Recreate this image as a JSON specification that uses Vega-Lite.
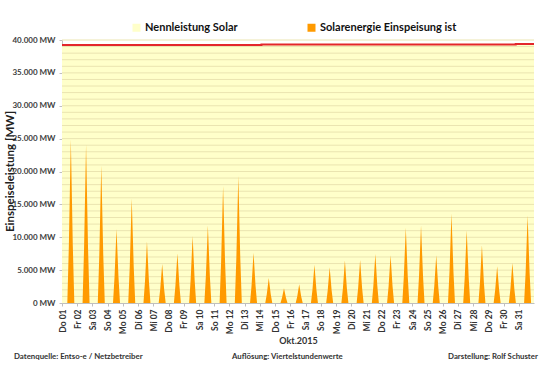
{
  "$schema": "https://vega.github.io/schema/vega-lite/v6.json",
  "width": 472,
  "height": 263,
  "autosize": {"type": "none"},
  "padding": {"left": 62, "top": 40, "right": 6, "bottom": 65},
  "background": "white",
  "config": {"view": {"stroke": null}, "font": "Lato", "axis": {"labelFont": "Lato", "titleFont": "Lato", "labelOverlap": false, "labelSeparation": 0}},
  "datasets": {
    "nenn": [
      {"t": 0, "mw": 39250},
      {"t": 13.1, "mw": 39300},
      {"t": 29.8, "mw": 39380},
      {"t": 31, "mw": 39380}
    ],
    "grid": [
      {"mw": 1000}, {"mw": 2000}, {"mw": 3000}, {"mw": 4000}, {"mw": 5000}, {"mw": 6000}, {"mw": 7000}, {"mw": 8000}, {"mw": 9000}, {"mw": 10000},
      {"mw": 11000}, {"mw": 12000}, {"mw": 13000}, {"mw": 14000}, {"mw": 15000}, {"mw": 16000}, {"mw": 17000}, {"mw": 18000}, {"mw": 19000}, {"mw": 20000},
      {"mw": 21000}, {"mw": 22000}, {"mw": 23000}, {"mw": 24000}, {"mw": 25000}, {"mw": 26000}, {"mw": 27000}, {"mw": 28000}, {"mw": 29000}, {"mw": 30000},
      {"mw": 31000}, {"mw": 32000}, {"mw": 33000}, {"mw": 34000}, {"mw": 35000}, {"mw": 36000}, {"mw": 37000}, {"mw": 38000}, {"mw": 39000}, {"mw": 40000}
    ],
    "solar": [
      {"t": 0.35, "mw": 0}, {"t": 0.45, "mw": 8715}, {"t": 0.58, "mw": 24900}, {"t": 0.71, "mw": 8715}, {"t": 0.81, "mw": 0},
      {"t": 1.35, "mw": 0}, {"t": 1.45, "mw": 8435}, {"t": 1.58, "mw": 24100}, {"t": 1.71, "mw": 8435}, {"t": 1.81, "mw": 0},
      {"t": 2.35, "mw": 0}, {"t": 2.45, "mw": 7315}, {"t": 2.58, "mw": 20900}, {"t": 2.71, "mw": 7315}, {"t": 2.81, "mw": 0},
      {"t": 3.35, "mw": 0}, {"t": 3.45, "mw": 3938}, {"t": 3.58, "mw": 11250}, {"t": 3.71, "mw": 3938}, {"t": 3.81, "mw": 0},
      {"t": 4.35, "mw": 0}, {"t": 4.45, "mw": 5565}, {"t": 4.58, "mw": 15900}, {"t": 4.71, "mw": 5565}, {"t": 4.81, "mw": 0},
      {"t": 5.35, "mw": 0}, {"t": 5.45, "mw": 3273}, {"t": 5.58, "mw": 9350}, {"t": 5.71, "mw": 3273}, {"t": 5.81, "mw": 0},
      {"t": 6.35, "mw": 0}, {"t": 6.45, "mw": 2083}, {"t": 6.58, "mw": 5950}, {"t": 6.71, "mw": 2083}, {"t": 6.81, "mw": 0},
      {"t": 7.35, "mw": 0}, {"t": 7.45, "mw": 2643}, {"t": 7.58, "mw": 7550}, {"t": 7.71, "mw": 2643}, {"t": 7.81, "mw": 0},
      {"t": 8.35, "mw": 0}, {"t": 8.45, "mw": 3570}, {"t": 8.58, "mw": 10200}, {"t": 8.71, "mw": 3570}, {"t": 8.81, "mw": 0},
      {"t": 9.35, "mw": 0}, {"t": 9.45, "mw": 4130}, {"t": 9.58, "mw": 11800}, {"t": 9.71, "mw": 4130}, {"t": 9.81, "mw": 0},
      {"t": 10.35, "mw": 0}, {"t": 10.45, "mw": 6230}, {"t": 10.58, "mw": 17800}, {"t": 10.71, "mw": 6230}, {"t": 10.81, "mw": 0},
      {"t": 11.35, "mw": 0}, {"t": 11.45, "mw": 6755}, {"t": 11.58, "mw": 19300}, {"t": 11.71, "mw": 6755}, {"t": 11.81, "mw": 0},
      {"t": 12.35, "mw": 0}, {"t": 12.45, "mw": 2678}, {"t": 12.58, "mw": 7650}, {"t": 12.71, "mw": 2678}, {"t": 12.81, "mw": 0},
      {"t": 13.35, "mw": 0}, {"t": 13.45, "mw": 1330}, {"t": 13.58, "mw": 3800}, {"t": 13.71, "mw": 1330}, {"t": 13.81, "mw": 0},
      {"t": 14.35, "mw": 0}, {"t": 14.45, "mw": 788}, {"t": 14.58, "mw": 2250}, {"t": 14.71, "mw": 788}, {"t": 14.81, "mw": 0},
      {"t": 15.35, "mw": 0}, {"t": 15.45, "mw": 998}, {"t": 15.58, "mw": 2850}, {"t": 15.71, "mw": 998}, {"t": 15.81, "mw": 0},
      {"t": 16.35, "mw": 0}, {"t": 16.45, "mw": 2030}, {"t": 16.58, "mw": 5800}, {"t": 16.71, "mw": 2030}, {"t": 16.81, "mw": 0},
      {"t": 17.35, "mw": 0}, {"t": 17.45, "mw": 1908}, {"t": 17.58, "mw": 5450}, {"t": 17.71, "mw": 1908}, {"t": 17.81, "mw": 0},
      {"t": 18.35, "mw": 0}, {"t": 18.45, "mw": 2258}, {"t": 18.58, "mw": 6450}, {"t": 18.71, "mw": 2258}, {"t": 18.81, "mw": 0},
      {"t": 19.35, "mw": 0}, {"t": 19.45, "mw": 2293}, {"t": 19.58, "mw": 6550}, {"t": 19.71, "mw": 2293}, {"t": 19.81, "mw": 0},
      {"t": 20.35, "mw": 0}, {"t": 20.45, "mw": 2608}, {"t": 20.58, "mw": 7450}, {"t": 20.71, "mw": 2608}, {"t": 20.81, "mw": 0},
      {"t": 21.35, "mw": 0}, {"t": 21.45, "mw": 2538}, {"t": 21.58, "mw": 7250}, {"t": 21.71, "mw": 2538}, {"t": 21.81, "mw": 0},
      {"t": 22.35, "mw": 0}, {"t": 22.45, "mw": 4008}, {"t": 22.58, "mw": 11450}, {"t": 22.71, "mw": 4008}, {"t": 22.81, "mw": 0},
      {"t": 23.35, "mw": 0}, {"t": 23.45, "mw": 4130}, {"t": 23.58, "mw": 11800}, {"t": 23.71, "mw": 4130}, {"t": 23.81, "mw": 0},
      {"t": 24.35, "mw": 0}, {"t": 24.45, "mw": 2538}, {"t": 24.58, "mw": 7250}, {"t": 24.71, "mw": 2538}, {"t": 24.81, "mw": 0},
      {"t": 25.35, "mw": 0}, {"t": 25.45, "mw": 4760}, {"t": 25.58, "mw": 13600}, {"t": 25.71, "mw": 4760}, {"t": 25.81, "mw": 0},
      {"t": 26.35, "mw": 0}, {"t": 26.45, "mw": 3868}, {"t": 26.58, "mw": 11050}, {"t": 26.71, "mw": 3868}, {"t": 26.81, "mw": 0},
      {"t": 27.35, "mw": 0}, {"t": 27.45, "mw": 3080}, {"t": 27.58, "mw": 8800}, {"t": 27.71, "mw": 3080}, {"t": 27.81, "mw": 0},
      {"t": 28.35, "mw": 0}, {"t": 28.45, "mw": 1960}, {"t": 28.58, "mw": 5600}, {"t": 28.71, "mw": 1960}, {"t": 28.81, "mw": 0},
      {"t": 29.35, "mw": 0}, {"t": 29.45, "mw": 2135}, {"t": 29.58, "mw": 6100}, {"t": 29.71, "mw": 2135}, {"t": 29.81, "mw": 0},
      {"t": 30.35, "mw": 0}, {"t": 30.45, "mw": 4655}, {"t": 30.58, "mw": 13300}, {"t": 30.71, "mw": 4655}, {"t": 30.81, "mw": 0}
    ]
  },
  "layer": [
    {
      "data": {"name": "nenn"},
      "mark": {"type": "area", "interpolate": "step-after", "color": "#FFFFCA"},
      "encoding": {
        "x": {
          "field": "t", "type": "quantitative",
          "scale": {"domain": [0, 31], "nice": false, "zero": false},
          "axis": {
            "values": [0,1,2,3,4,5,6,7,8,9,10,11,12,13,14,15,16,17,18,19,20,21,22,23,24,25,26,27,28,29,30],
            "tickCount": 100,
            "labelExpr": "['Do 01','Fr 02','Sa 03','So 04','Mo 05','Di 06','Mi 07','Do 08','Fr 09','Sa 10','So 11','Mo 12','Di 13','Mi 14','Do 15','Fr 16','Sa 17','So 18','Mo 19','Di 20','Mi 21','Do 22','Fr 23','Sa 24','So 25','Mo 26','Di 27','Mi 28','Do 29','Fr 30','Sa 31'][datum.value]",
            "labelAngle": -90,
            "labelFontSize": 8.5,
            "labelFontWeight": "bold",
            "labelColor": "#333333",
            "labelPadding": 3,
            "labelFlush": false,
            "labelOverlap": false,
            "labelBound": false,
            "tickSize": 3,
            "tickColor": "#BFBFBF",
            "domainColor": "#BFBFBF",
            "grid": false,
            "title": "Okt.2015",
            "titleFontSize": 9,
            "titleFontWeight": "bold",
            "titleColor": "#333333",
            "titlePadding": 3
          }
        },
        "y": {
          "field": "mw", "type": "quantitative",
          "scale": {"domain": [0, 40000], "nice": false},
          "axis": {
            "values": [0, 5000, 10000, 15000, 20000, 25000, 30000, 35000, 40000],
            "tickCount": 100,
            "labelExpr": "replace(format(datum.value, ','), ',', '.') + ' MW'",
            "labelFontSize": 8,
            "labelFontWeight": "bold",
            "labelColor": "#404040",
            "labelPadding": 4,
            "labelOverlap": false,
            "labelFlush": false,
            "tickSize": 3,
            "tickColor": "#BFBFBF",
            "domainColor": "#BFBFBF",
            "grid": false,
            "title": "Einspeiseleistung  [MW]",
            "titleFontSize": 11.5,
            "titleFontWeight": "bold",
            "titleColor": "#222222",
            "titleBaseline": "middle",
            "titleX": -52,
            "titleY": 131
          }
        },
        "color": {
          "datum": "Nennleistung Solar",
          "scale": {"domain": ["Nennleistung Solar", "Solarenergie Einspeisung ist"], "range": ["#FFFFCA", "#FF9A00"]},
          "legend": {
            "orient": "none",
            "legendX": 69,
            "legendY": -18,
            "direction": "horizontal",
            "title": null,
            "symbolType": "square",
            "symbolSize": 64,
            "symbolStrokeWidth": 0,
            "symbolOpacity": 1,
            "labelFont": "Lato",
            "labelFontSize": 11,
            "labelFontWeight": "bold",
            "labelColor": "#111111",
            "labelOffset": 3,
            "columnPadding": 68
          }
        }
      }
    },
    {
      "data": {"name": "grid"},
      "mark": {"type": "rule", "color": "#EAE4B0", "strokeWidth": 1},
      "encoding": {
        "y": {"field": "mw", "type": "quantitative"}
      }
    },
    {
      "data": {"name": "solar"},
      "mark": {"type": "area", "opacity": 1},
      "encoding": {
        "x": {"field": "t", "type": "quantitative"},
        "y": {"field": "mw", "type": "quantitative"},
        "color": {"datum": "Solarenergie Einspeisung ist"}
      }
    },
    {
      "data": {"name": "nenn"},
      "mark": {"type": "line", "interpolate": "step-after", "color": "#E3262B", "strokeWidth": 2},
      "encoding": {
        "x": {"field": "t", "type": "quantitative"},
        "y": {"field": "mw", "type": "quantitative"}
      }
    },
    {
      "data": {"values": [{}]},
      "mark": {"type": "text", "align": "left", "baseline": "middle", "font": "Lato", "fontSize": 7.8, "fontWeight": "bold", "color": "#333333"},
      "encoding": {
        "x": {"datum": -3.15, "type": "quantitative"},
        "y": {"datum": -8213, "type": "quantitative"},
        "text": {"value": "Datenquelle: Entso-e  / Netzbetreiber"}
      }
    },
    {
      "data": {"values": [{}]},
      "mark": {"type": "text", "align": "center", "baseline": "middle", "font": "Lato", "fontSize": 7.8, "fontWeight": "bold", "color": "#333333"},
      "encoding": {
        "x": {"datum": 14.8, "type": "quantitative"},
        "y": {"datum": -8213, "type": "quantitative"},
        "text": {"value": "Auflösung: Viertelstundenwerte"}
      }
    },
    {
      "data": {"values": [{}]},
      "mark": {"type": "text", "align": "right", "baseline": "middle", "font": "Lato", "fontSize": 7.8, "fontWeight": "bold", "color": "#333333"},
      "encoding": {
        "x": {"datum": 31.25, "type": "quantitative"},
        "y": {"datum": -8213, "type": "quantitative"},
        "text": {"value": "Darstellung: Rolf Schuster"}
      }
    }
  ]
}
